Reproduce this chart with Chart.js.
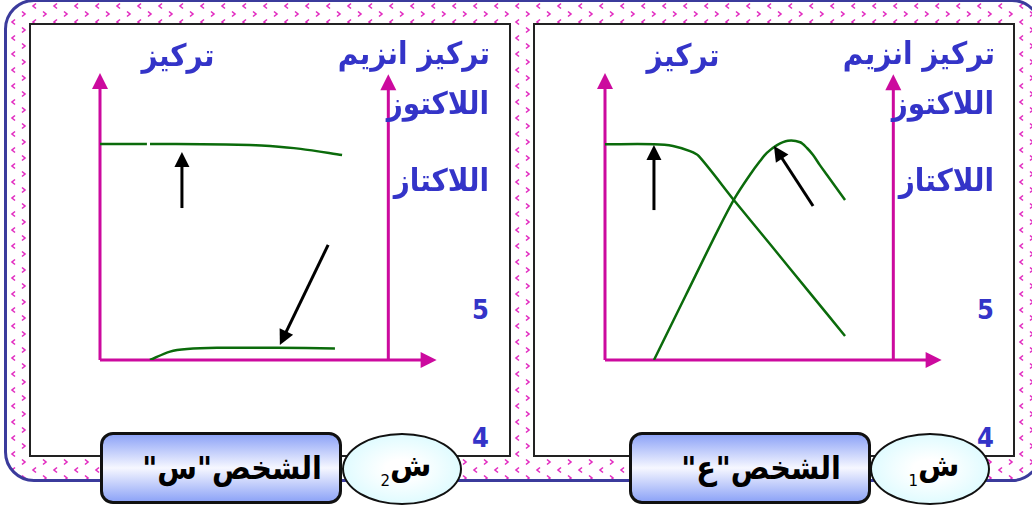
<!DOCTYPE html>
<html>
<head>
<meta charset="utf-8">
<script src="https://cdn.jsdelivr.net/npm/chart.js@4.4.1/dist/chart.umd.min.js"></script>
<style>
  body { margin: 0; width: 1032px; height: 510px; overflow: hidden; background: #fff; position: relative; font-family: "DejaVu Sans Condensed", "DejaVu Sans", sans-serif; }
  #frame { position: absolute; left: 4px; top: -1px; width: 1038px; height: 483px; box-sizing: border-box; border: 3px solid #3b3b9c; border-radius: 30px; }
  .panel { position: absolute; top: 23px; width: 482px; height: 434px; box-sizing: border-box; border: 2px solid #222; background: #fff; }
  .lbl { position: absolute; color: #3434c8; font-weight: bold; white-space: nowrap; direction: rtl; line-height: 1; }
  .pill { position: absolute; top: 432px; width: 242px; height: 72px; box-sizing: border-box; border: 3px solid #111; border-radius: 13px; padding-left: 22px;
          background: linear-gradient(to bottom, #8ea4f7 0%, #f6f7ff 50%, #8ea4f7 100%);
          font: bold 32px "DejaVu Sans Condensed", "DejaVu Sans", sans-serif; color: #000; display: flex; align-items: center; justify-content: center; direction: rtl; }
  .oval { position: absolute; top: 433px; width: 120px; height: 72px; box-sizing: border-box; border: 2.5px solid #111; border-radius: 50%; padding-left: 8px;
          background: radial-gradient(ellipse at center, #ffffff 20%, #cff9ff 100%);
          font: bold 30px "DejaVu Sans", sans-serif; color: #000; display: flex; align-items: center; justify-content: center; direction: rtl; }
  .oval sub { font-size: 15px; font-weight: normal; vertical-align: -10px; }
  canvas { position: absolute; top: 60px; }
</style>
</head>
<body>
<div id="frame"></div>
<div class="panel" style="left:29px"></div>
<div class="panel" style="left:533px"></div>
<canvas id="chartS" width="360" height="310" style="left:90px"></canvas>
<canvas id="chartE" width="360" height="310" style="left:595px"></canvas>
<div id="labels"></div>
<div class="pill" style="left:100px">الشخص"س"</div>
<div class="oval" style="left:342px"><span>ش<sub>2</sub></span></div>
<div class="pill" style="left:629px">الشخص"ع"</div>
<div class="oval" style="left:870px"><span>ش<sub>1</sub></span></div>
<script>
// person "س" (no lactase)
const lactoseX_S = [0, 1.38, 1.42, 1.47, 3.0, 4.4, 5.0, 5.9, 7.12];
const lactoseY_S = [7.45, 7.45, null, 7.45, 7.44, 7.41, 7.38, 7.28, 7.07];
const lactaseX_S = [1.47, 2.06, 2.56, 3.44, 5.2, 6.91];
const lactaseY_S = [0, 0.29, 0.38, 0.42, 0.42, 0.40];
// person "ع"
const lactoseX_E = [0, 1.44, 2.0, 2.5, 2.76, 3.8, 4.9, 6.0, 7.06];
const lactoseY_E = [7.44, 7.44, 7.38, 7.2, 7.03, 5.5, 3.93, 2.35, 0.83];
const lactaseX_E = [1.44, 2.38, 3.32, 3.82, 4.26, 4.56, 4.76, 5.06, 5.38, 5.74, 5.94, 6.12, 6.32, 6.53, 7.06];
const lactaseY_E = [0, 2.24, 4.48, 5.59, 6.38, 6.86, 7.14, 7.41, 7.56, 7.51, 7.31, 7.07, 6.72, 6.38, 5.52];
// pointer arrows [fromX, fromY, toX, toY]
const arrows_S = [[2.41, 5.24, 2.41, 7.17], [6.71, 3.97, 5.29, 0.52]];
const arrows_E = [[1.44, 5.17, 1.44, 7.41], [6.12, 5.31, 4.97, 7.38]];
const axisTop = 9.9, axisEnd = 9.9, enzymeAxisX = 8.48;

const labelTexts = ["تركيز", "تركيز انزيم", "اللاكتوز", "اللاكتاز", "5", "4"];

Chart.defaults.devicePixelRatio = 1;

function head(ctx, x1, y1, x2, y2, len, half, color) {
  const a = Math.atan2(y2 - y1, x2 - x1);
  ctx.fillStyle = color;
  ctx.beginPath();
  ctx.moveTo(x2, y2);
  ctx.lineTo(x2 - len * Math.cos(a) + half * Math.sin(a), y2 - len * Math.sin(a) - half * Math.cos(a));
  ctx.lineTo(x2 - len * Math.cos(a) - half * Math.sin(a), y2 - len * Math.sin(a) + half * Math.cos(a));
  ctx.closePath();
  ctx.fill();
}

const diagram = {
  id: "diagram",
  beforeDatasetsDraw(chart, args, opts) {
    const { ctx, scales: { x, y } } = chart;
    const ox = x.getPixelForValue(0), oy = y.getPixelForValue(0);
    const segs = [
      [ox, oy, ox, y.getPixelForValue(axisTop)],
      [ox, oy, x.getPixelForValue(axisEnd), oy],
      [x.getPixelForValue(enzymeAxisX), oy, x.getPixelForValue(enzymeAxisX), y.getPixelForValue(axisTop - 0.05)]
    ];
    ctx.save();
    ctx.strokeStyle = "#cc0a9e";
    ctx.lineWidth = 3;
    segs.forEach(s => {
      const a = Math.atan2(s[3] - s[1], s[2] - s[0]);
      ctx.beginPath();
      ctx.moveTo(s[0], s[1]);
      ctx.lineTo(s[2] - 12 * Math.cos(a), s[3] - 12 * Math.sin(a));
      ctx.stroke();
      head(ctx, s[0], s[1], s[2], s[3], 16, 8, "#cc0a9e");
    });
    ctx.restore();
  },
  afterDatasetsDraw(chart, args, opts) {
    const { ctx, scales: { x, y } } = chart;
    ctx.save();
    ctx.strokeStyle = "#000";
    ctx.lineWidth = 3;
    opts.arrows.forEach(r => {
      const x1 = x.getPixelForValue(r[0]), y1 = y.getPixelForValue(r[1]);
      const x2 = x.getPixelForValue(r[2]), y2 = y.getPixelForValue(r[3]);
      const a = Math.atan2(y2 - y1, x2 - x1);
      ctx.beginPath();
      ctx.moveTo(x1, y1);
      ctx.lineTo(x2 - 12 * Math.cos(a), y2 - 12 * Math.sin(a));
      ctx.stroke();
      head(ctx, x1, y1, x2, y2, 15, 7.5, "#000");
    });
    ctx.restore();
  }
};

function pts(xs, ys) { return xs.map((v, i) => ({ x: v, y: ys[i] })); }

function makeChart(id, lx, ly, ex, ey, arrows) {
  const line = { borderColor: "#0b6b0b", borderWidth: 2.5, pointRadius: 0, tension: 0.3, fill: false };
  new Chart(document.getElementById(id), {
    type: "line",
    data: { datasets: [
      Object.assign({ label: "اللاكتوز", data: pts(lx, ly) }, line),
      Object.assign({ label: "اللاكتاز", data: pts(ex, ey) }, line)
    ] },
    options: {
      responsive: false,
      animation: false,
      layout: { padding: 10 },
      scales: {
        x: { type: "linear", min: 0, max: 10, display: false },
        y: { min: 0, max: 10, display: false }
      },
      plugins: { legend: { display: false }, tooltip: { enabled: false }, diagram: { arrows: arrows } }
    },
    plugins: [diagram]
  });
}
makeChart("chartS", lactoseX_S, lactoseY_S, lactaseX_S, lactaseY_S, arrows_S);
makeChart("chartE", lactoseX_E, lactoseY_E, lactaseX_E, lactaseY_E, arrows_E);

// text labels for both panels (right edge / top, panel offset)
const labelSpots = [
  { c: 178, t: 40, s: 31 },
  { r: 490, t: 38, s: 31 },
  { r: 489, t: 88, s: 31 },
  { r: 489, t: 165, s: 31 },
  { r: 489, t: 296, s: 27 },
  { r: 489, t: 424, s: 27 }
];
const box = document.getElementById("labels");
[0, 505].forEach(off => {
  labelTexts.forEach((t, i) => {
    const p = labelSpots[i], d = document.createElement("div");
    d.className = "lbl";
    d.textContent = t;
    d.style.top = p.t + "px";
    d.style.fontSize = p.s + "px";
    if (p.r !== undefined) d.style.right = (1032 - p.r - off) + "px";
    else { d.style.left = (p.c + off) + "px"; d.style.transform = "translateX(-50%)"; }
    box.appendChild(d);
  });
});

// dotted chevron fill of the frame
const tile = document.createElement("canvas");
tile.width = 21; tile.height = 16;
const tc = tile.getContext("2d");
tc.strokeStyle = "#e22cc0"; tc.lineWidth = 1.6;
tc.beginPath(); tc.moveTo(8, 1.5); tc.lineTo(5, 4); tc.lineTo(8, 6.5); tc.stroke();
tc.beginPath(); tc.moveTo(15, 9.5); tc.lineTo(18, 12); tc.lineTo(15, 14.5); tc.stroke();
const fr = document.getElementById("frame");
fr.style.backgroundImage = "url(" + tile.toDataURL() + ")";
</script>
</body>
</html>
